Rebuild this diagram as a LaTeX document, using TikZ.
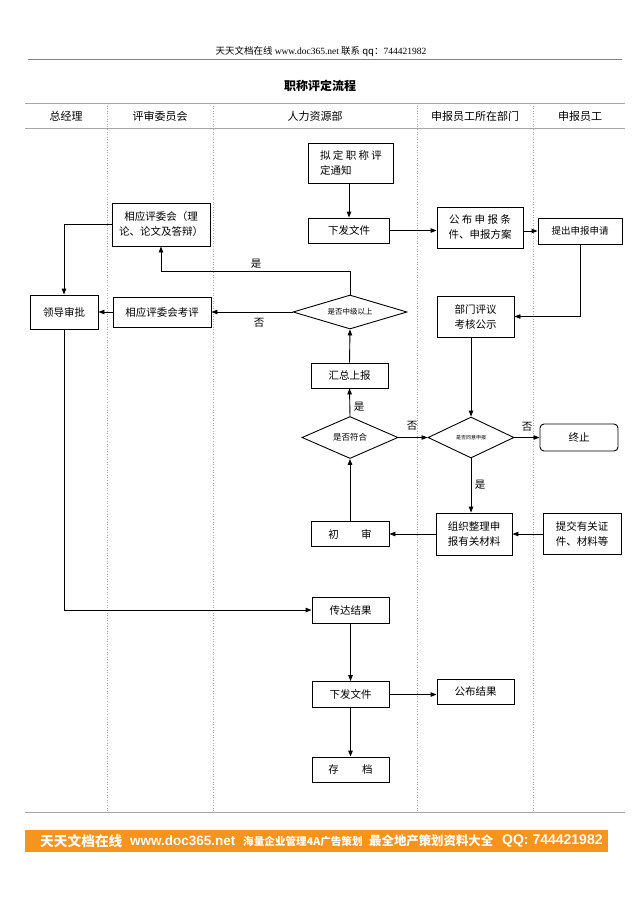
\documentclass[tikz,border=0pt]{standalone}
\usepackage{fontspec}
\setmainfont{Noto Sans CJK SC}
\newfontfamily\latin{Liberation Serif}
\newfontfamily\latinsans{Liberation Sans}
\usetikzlibrary{arrows.meta,positioning,shapes.geometric}
\definecolor{banner}{HTML}{F7941D}

\begin{document}
\begin{tikzpicture}[x=1pt,y=-1pt,
  box/.style={draw,line width=0.9pt,inner sep=1pt,align=center,font=\fontsize{10.5}{15}\selectfont},
  dec/.style={draw,line width=0.9pt,diamond,inner sep=0pt},
  flow/.style={line width=0.9pt,-{Triangle[length=6pt,width=4.5pt]}},
  lab/.style={font=\fontsize{10.5}{12}\selectfont}]
  \useasboundingbox (0,0) rectangle (640,905);
  % page header
  \node[font=\fontsize{9.5}{10}\selectfont] (hdr) at (321,52) {天天文档在线 {\latin www.doc365.net} 联系 qq：{\latin 744421982}};
  \draw[line width=0.6pt,gray] (28,59) -- (622,59);
  \node[font=\bfseries\fontsize{12}{14}\selectfont] (title) at (320,86) {职称评定流程};
  % swimlanes
  \draw[line width=0.8pt,gray!70] (25,103) -- (625,103) (25,128) -- (625,128) (25,812) -- (625,812);
  \foreach \x in {107,213,417,533}
    \draw[gray!70,dotted,line width=0.6pt] (\x,103) -- (\x,812);
  \foreach \x/\lane/\nm in {66/总经理/gm,160/评审委员会/jury,315/人力资源部/hr,475/申报员工所在部门/dep,580/申报员工/staff}
    \node[font=\fontsize{11}{12}\selectfont] (lane-\nm) at (\x,116) {\lane};

  % boxes
  \node[box,minimum width=85,minimum height=40,align=left] (notice) at (351,163) {拟 定 职 称 评\\定通知};
  \node[box,minimum width=81,minimum height=25] (issue1) at (349,230.5) {下发文件};
  \node[box,minimum width=86,minimum height=41] (publish) at (480,227.5) {公 布 申 报 条\\件、申报方案};
  \node[box,minimum width=84,minimum height=26,font=\fontsize{9.5}{11}\selectfont] (apply) at (580,231) {提出申报申请};
  \node[box,minimum width=98,minimum height=43] (committee) at (161,224.5) {相应评委会（理\\论、论文及答辩）};
  \node[box,minimum width=68,minimum height=34] (leader) at (64,312) {领导审批};
  \node[box,minimum width=98,minimum height=30] (review) at (162,312) {相应评委会考评};
  \node[dec,minimum width=114,minimum height=34,aspect=3.35,font=\fontsize{7.5}{9}\selectfont] (dMid) at (350,312) {是否中级以上};
  \node[box,minimum width=77,minimum height=41] (dept) at (475.5,316.5) {部门评议\\考核公示};
  \node[box,minimum width=77,minimum height=25] (summary) at (349.5,375.5) {汇总上报};
  \node[dec,minimum width=96,minimum height=42,aspect=2.3,font=\fontsize{8.5}{10}\selectfont] (dFit) at (350,437.5) {是否符合};
  \node[dec,minimum width=86,minimum height=41,aspect=2.1,font=\fontsize{5}{6}\selectfont] (dAgree) at (471,437.5) {是否同意申报};
  \node[box,rounded corners=4pt,minimum width=78,minimum height=27] (stop) at (579,437.5) {终止};
  \node[box,minimum width=78,minimum height=25] (check) at (350,534) {初\hspace{2.1em}审};
  \node[box,minimum width=76,minimum height=42] (organize) at (474,534) {组织整理申\\报有关材料};
  \node[box,minimum width=78,minimum height=41] (submit) at (582,534) {提交有关证\\件、材料等};
  \node[box,minimum width=77,minimum height=26] (relay) at (350.5,610) {传达结果};
  \node[box,minimum width=77,minimum height=26] (issue2) at (350.5,694.5) {下发文件};
  \node[box,minimum width=77,minimum height=25] (result) at (475.5,691.5) {公布结果};
  \node[box,minimum width=77,minimum height=25] (archive) at (350.5,769.5) {存\hspace{2.2em}档};

  % connectors
  \draw[flow] (issue1 |- notice.south) -- (issue1.north);
  \draw[flow] (issue1.east) -- (publish.west |- issue1.east);
  \draw[flow] (publish.east |- apply.west) -- (apply.west);
  \draw[flow] (apply.south) |- (dept.east);
  \draw[flow] (dAgree |- dept.south) -- (dAgree.north);
  \draw[flow] (dAgree.east) -- (stop.west);
  \draw[flow] (dAgree.south) -- (dAgree |- organize.north);
  \draw[flow] (submit.west) -- (organize.east);
  \draw[flow] (organize.west) -- (check.east);
  \draw[flow] (check.north) -- (dFit.south);
  \draw[flow] (dFit.east) -- (dAgree.west);
  \draw[flow] (dFit.north) -- (summary.south);
  \draw[flow] (summary.north) -- (dMid.south);
  \draw[flow] (dMid.west) -- (review.east);
  \coordinate (yesbend) at (350,271);
  \draw[flow] (dMid.north) -- (yesbend) -| (committee.south);
  \draw[flow] (review.west) -- (leader.east);
  \draw[flow] (committee.west) -| (leader.north);
  \draw[flow] (leader.south) |- (relay.west);
  \draw[flow] (relay.south) -- (issue2.north);
  \draw[flow] (issue2.east) -- (result.west |- issue2.east);
  \draw[flow] (issue2.south) -- (archive.north);

  % branch labels
  \node[lab] (yesHigh) at (256,264) {是};
  \node[lab] (noHigh) at (259,323) {否};
  \node[lab] (yesFit) at (359,407) {是};
  \node[lab] (noFit) at (412,426) {否};
  \node[lab] (noAgree) at (527,427) {否};
  \node[lab] (yesAgree) at (480,485) {是};

  % footer banner
  \fill[banner] (25,830) rectangle (608,852);
  \begin{scope}[every node/.style={text=white,anchor=west,inner sep=0pt}]
    \node[font=\bfseries\fontsize{13.7}{14}\selectfont] (ft1) at (40,841) {天天文档在线};
    \node[font=\latinsans\bfseries\fontsize{13.5}{14}\selectfont] (ft2) at (130,841) {www.doc365.net};
    \node[font=\bfseries\fontsize{10.6}{11}\selectfont] (ft3) at (243,841) {海量企业管理4A广告策划};
    \node[font=\bfseries\fontsize{12.4}{14}\selectfont] (ft4) at (369,841) {最全地产策划资料大全};
    \node[font=\latinsans\bfseries\fontsize{14}{14}\selectfont] (ft5) at (502,841) {QQ: 744421982};
  \end{scope}
\end{tikzpicture}
\end{document}
